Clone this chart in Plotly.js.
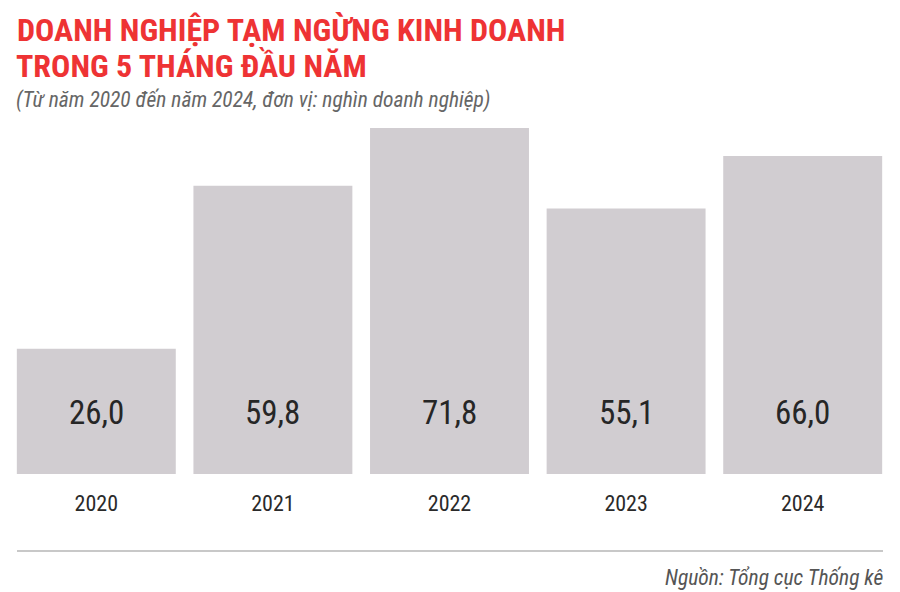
<!DOCTYPE html>
<html>
<head>
<meta charset="utf-8">
<script src="https://cdn.plot.ly/plotly-3.0.1.min.js"></script>
<style>html,body{margin:0;padding:0;background:#fff;}#chart{width:900px;height:592px;}</style>
</head>
<body>
<div id="chart"></div>
<script>
const years = ['2020', '2021', '2022', '2023', '2024'];
const values = [26.0, 59.8, 71.8, 55.1, 66.0];
const valueLabels = ['26,0', '59,8', '71,8', '55,1', '66,0'];
const titleLine1 = 'DOANH NGHIỆP TẠM NGỪNG KINH DOANH';
const titleLine2 = 'TRONG 5 THÁNG ĐẦU NĂM';
const subtitle = '(Từ năm 2020 đến năm 2024, đơn vị: nghìn doanh nghiệp)';
const source = 'Nguồn: Tổng cục Thống kê';

const FONT = '"Roboto Condensed", "Liberation Sans Narrow", "DejaVu Sans Condensed", Roboto, sans-serif';
const H = 346; // plot height in px
const py = p => (474 - p) / H; // pixel y -> paper y

const trace = {
  type: 'bar',
  x: years,
  y: values,
  marker: {color: '#d1cdd1', line: {width: 0}},
  width: 0.9,
  hoverinfo: 'none'
};

const annotations = [];
years.forEach((yr, i) => {
  annotations.push({
    x: i, y: 0, xref: 'x', yref: 'y', yshift: 62,
    text: valueLabels[i], showarrow: false, yanchor: 'middle',
    font: {family: FONT, size: 33, color: '#262626'}
  });
});
annotations.push({
  x: 6/883, xref: 'paper', y: py(66), yref: 'paper', xanchor: 'left', yanchor: 'middle',
  text: '<b>' + titleLine2 + '</b>', showarrow: false,
  font: {family: FONT, size: 32, color: '#ee3334'}
});
annotations.push({
  x: 6/883, xref: 'paper', y: py(100), yref: 'paper', xanchor: 'left', yanchor: 'middle',
  text: '<i>' + subtitle + '</i>', showarrow: false,
  font: {family: FONT, size: 21.5, color: '#666'}
});
annotations.push({
  x: 878/883, xref: 'paper', y: py(577), yref: 'paper', xanchor: 'right', yanchor: 'middle',
  text: '<i>' + source + '</i>', showarrow: false,
  font: {family: FONT, size: 21.5, color: '#555'}
});

const layout = {
  width: 900, height: 592,
  margin: {l: 8, r: 9, t: 128, b: 118},
  paper_bgcolor: '#fff', plot_bgcolor: '#fff',
  title: {
    text: '<b>' + titleLine1 + '</b>',
    x: 17/900, xanchor: 'left', xref: 'container',
    y: 1 - 30/592, yanchor: 'middle', yref: 'container',
    font: {family: FONT, size: 32, color: '#ee3334'}
  },
  xaxis: {
    type: 'category', showline: false, showgrid: false, zeroline: false, ticks: '',
    tickfont: {family: FONT, size: 22, color: '#2a2a2a'},
    ticklabelstandoff: 14,
    fixedrange: true
  },
  yaxis: {visible: false, range: [0, 71.8], fixedrange: true},
  bargap: 0.1,
  showlegend: false,
  annotations: annotations,
  shapes: [{
    type: 'line', xref: 'paper', yref: 'paper',
    x0: 9/883, x1: 875/883, y0: py(551), y1: py(551),
    line: {color: '#c8c8c8', width: 2}
  }]
};

Plotly.newPlot('chart', [trace], layout, {displayModeBar: false, staticPlot: true});
</script>
</body>
</html>
